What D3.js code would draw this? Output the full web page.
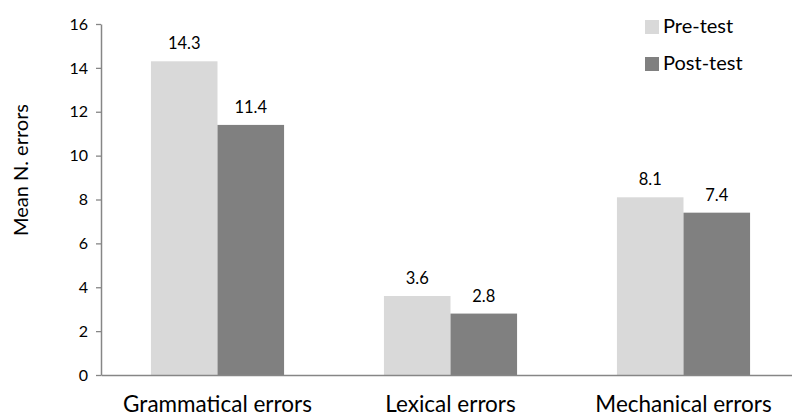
<!DOCTYPE html>
<html>
<head>
<meta charset="utf-8">
<script src="https://cdn.jsdelivr.net/npm/d3@7"></script>
<style>
  html, body { margin: 0; padding: 0; background: #fff; }
  svg { display: block; font-family: Lato, "Open Sans", sans-serif; }
</style>
</head>
<body>
<svg id="chart" width="792" height="416"></svg>
<script>
// Mean number of errors by category, before and after the intervention
const categories = ["Grammatical errors", "Lexical errors", "Mechanical errors"];
const seriesNames = ["Pre-test", "Post-test"];
const preTest = [14.3, 3.6, 8.1];
const postTest = [11.4, 2.8, 7.4];
const yTicks = [0, 2, 4, 6, 8, 10, 12, 14, 16];
const colors = ["#d9d9d9", "#808080"];

const FONT = "Lato, 'Open Sans', sans-serif";
const svg = d3.select("#chart");
const plotLeft = 101, plotRight = 800, plotTop = 24, plotBottom = 375;

const x = d3.scaleBand().domain(categories).range([plotLeft, plotRight]).paddingInner(0).paddingOuter(0);
const inner = d3.scaleBand().domain(seriesNames).range([0, x.bandwidth()]).paddingInner(0).paddingOuter(0.75);
const y = d3.scaleLinear().domain([0, 16]).range([plotBottom, plotTop]);

const rows = categories.map((c, i) => ({ cat: c, vals: [preTest[i], postTest[i]] }));

// bars with value labels
const g = svg.append("g");
rows.forEach(r => {
  r.vals.forEach((v, j) => {
    const bx = x(r.cat) + inner(seriesNames[j]);
    g.append("rect")
      .attr("x", bx)
      .attr("y", y(v))
      .attr("width", inner.bandwidth())
      .attr("height", y(0) - y(v))
      .attr("fill", colors[j]);
    g.append("text")
      .attr("x", bx + inner.bandwidth() / 2)
      .attr("y", y(v) - 12)
      .attr("text-anchor", "middle")
      .attr("font-size", 16.5)
      .attr("fill", "#000")
      .text(v.toFixed(1));
  });
});

// y axis
const yAxis = svg.append("g")
  .attr("transform", `translate(${plotLeft},0)`)
  .call(d3.axisLeft(y).tickValues(yTicks).tickSize(5).tickSizeOuter(0).tickPadding(8));
yAxis.select(".domain").attr("stroke", "#868686").attr("stroke-width", 1.5);
yAxis.selectAll(".tick line").attr("stroke", "#868686").attr("stroke-width", 1.3);
yAxis.selectAll(".tick text").attr("font-size", 16).attr("fill", "#000").attr("font-family", FONT);

// x axis
const xAxis = svg.append("g")
  .attr("transform", `translate(0,${plotBottom})`)
  .call(d3.axisBottom(x).tickSize(0).tickSizeOuter(0).tickPadding(21));
xAxis.select(".domain").attr("stroke", "#868686").attr("stroke-width", 1.5);
xAxis.selectAll(".tick text").attr("font-size", 22.5).attr("fill", "#000").attr("font-family", FONT);

// y axis title
svg.append("text")
  .attr("transform", "translate(28,170) rotate(-90)")
  .attr("text-anchor", "middle")
  .attr("font-size", 20)
  .attr("fill", "#000")
  .text("Mean N. errors");

// legend
const legend = svg.append("g").attr("transform", "translate(645,20)");
seriesNames.forEach((s, i) => {
  const lg = legend.append("g").attr("transform", `translate(0,${i * 37})`);
  lg.append("rect").attr("width", 14).attr("height", 14).attr("fill", colors[i]);
  lg.append("text").attr("x", 18).attr("y", 12.5).attr("font-size", 20).attr("fill", "#000").text(s);
});
</script>
</body>
</html>
